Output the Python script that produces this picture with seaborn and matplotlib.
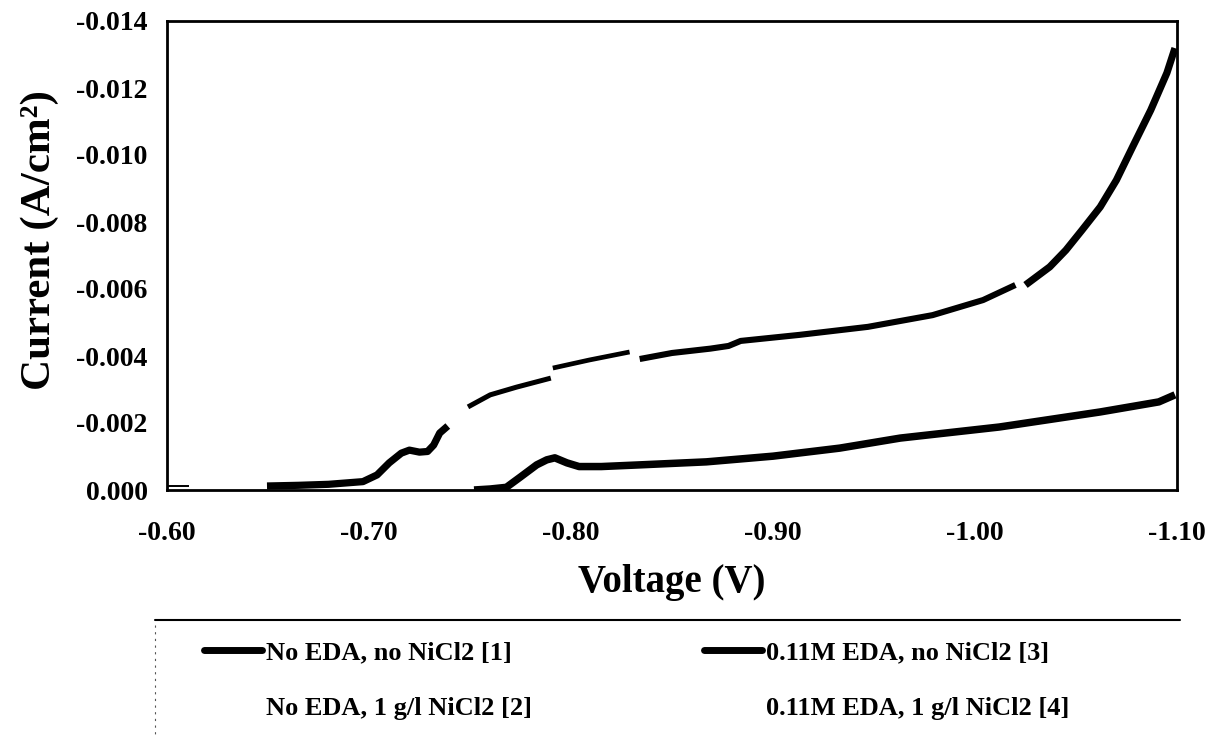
import numpy as np
import pandas as pd
import matplotlib
matplotlib.use("Agg")
import matplotlib.pyplot as plt
import seaborn as sns
from matplotlib.lines import Line2D

# ---------------- data (voltage in V, current in A/cm^2) ----------------
volt_a0 = [-0.600, -0.611]
curr_a0 = [-0.00012, -0.00012]

volt_a1 = [-0.6495, -0.665, -0.680, -0.697, -0.704, -0.710, -0.716, -0.720,
           -0.725, -0.729, -0.732, -0.735, -0.739]
curr_a1 = [-0.00012, -0.00014, -0.00017, -0.00025, -0.00045, -0.00081, -0.00110,
           -0.00119, -0.00113, -0.00115, -0.00134, -0.00170, -0.00191]

volt_a2 = [-0.749, -0.760, -0.773, -0.790]
curr_a2 = [-0.00248, -0.00284, -0.00307, -0.00334]

volt_a3 = [-0.791, -0.809, -0.829]
curr_a3 = [-0.00364, -0.00388, -0.00412]

volt_a4 = [-0.834, -0.850, -0.869, -0.878, -0.884, -0.913, -0.947, -0.979,
           -1.004, -1.020]
curr_a4 = [-0.00391, -0.00409, -0.00422, -0.00430, -0.00445, -0.00463,
           -0.00487, -0.00522, -0.00567, -0.00612]

volt_a5 = [-1.025, -1.037, -1.045, -1.053, -1.062, -1.070, -1.078, -1.087,
           -1.095, -1.099]
curr_a5 = [-0.00612, -0.00666, -0.00716, -0.00776, -0.00845, -0.00925,
           -0.01024, -0.01134, -0.01245, -0.01319]

volt_b = [-0.752, -0.760, -0.768, -0.775, -0.783, -0.788, -0.792, -0.798,
          -0.804, -0.815, -0.834, -0.867, -0.900, -0.933, -0.963, -1.012,
          -1.062, -1.091, -1.099]
curr_b = [-0.00000, -0.00003, -0.00008, -0.00039, -0.00075, -0.00090, -0.00096,
          -0.00081, -0.00070, -0.00070, -0.00075, -0.00084, -0.00101, -0.00125,
          -0.00155, -0.00188, -0.00233, -0.00263, -0.00284]

legend_labels = ["No EDA, no NiCl2 [1]", "No EDA, 1 g/l NiCl2 [2]",
                 "0.11M EDA, no NiCl2 [3]", "0.11M EDA, 1 g/l NiCl2 [4]"]
x_ticks = [-0.60, -0.70, -0.80, -0.90, -1.00, -1.10]
y_ticks = [0.000, -0.002, -0.004, -0.006, -0.008, -0.010, -0.012, -0.014]

# ---------------- build long table ----------------
segments = [
    ("A0", volt_a0, curr_a0),
    ("A1", volt_a1, curr_a1),
    ("A2", volt_a2, curr_a2),
    ("A3", volt_a3, curr_a3),
    ("A4", volt_a4, curr_a4),
    ("A5", volt_a5, curr_a5),
    ("B", volt_b, curr_b),
]
frames = []
for name, v, c in segments:
    frames.append(pd.DataFrame({"Voltage": v, "Current": c, "segment": name}))
df = pd.concat(frames, ignore_index=True)

seg_width = {"A0": 1.4, "A1": 5.2, "A2": 3.6, "A3": 3.4, "A4": 4.4, "A5": 5.2, "B": 5.4}

# ---------------- plotting ----------------
sns.set_theme(style="white")
plt.rcParams["font.family"] = ["Liberation Serif", "DejaVu Serif"]
plt.rcParams["font.weight"] = "bold"
plt.rcParams["text.color"] = "black"
plt.rcParams["axes.labelcolor"] = "black"
plt.rcParams["xtick.color"] = "black"
plt.rcParams["ytick.color"] = "black"

fig = plt.figure(figsize=(12.09, 7.37), dpi=100)
ax = fig.add_axes([167 / 1209, 1 - 490 / 737, (1177 - 167) / 1209, (490 - 21) / 737])

for name, sub in df.groupby("segment", sort=False):
    sns.lineplot(data=sub, x="Voltage", y="Current", ax=ax, color="black",
                 linewidth=seg_width[name], estimator=None, sort=False,
                 solid_capstyle="butt", legend=False)

ax.set_xlim(-0.60, -1.10)
ax.set_ylim(0.0, -0.014)
ax.set_xticks(x_ticks)
ax.set_yticks(y_ticks)
ax.set_xticklabels([f"{t:.2f}" for t in x_ticks])
ax.set_yticklabels([f"{t:.3f}" for t in y_ticks])
ax.tick_params(axis="both", which="major", labelsize=20, colors="black",
               direction="out", length=5, width=1.2)
ax.tick_params(axis="x", pad=17)
ax.tick_params(axis="y", pad=9)
for lab in ax.get_xticklabels() + ax.get_yticklabels():
    lab.set_fontweight("bold")
    lab.set_color("black")

for sp in ax.spines.values():
    sp.set_visible(True)
    sp.set_color("black")
    sp.set_linewidth(2.0)

ax.set_xlabel("Voltage (V)", fontsize=28, fontweight="bold", color="black")
ax.set_ylabel("Current (A/cm²)", fontsize=31, fontweight="bold", color="black")
ax.xaxis.set_label_coords(0.5, -0.157)
ax.yaxis.set_label_coords(-0.107, 0.533)
ax.grid(False)

# ---------------- legend ----------------
handles = [
    Line2D([0], [0], color="black", lw=5),
    Line2D([0], [0], color="white", lw=5),
    Line2D([0], [0], color="black", lw=5),
    Line2D([0], [0], color="white", lw=5),
]
leg = fig.legend(handles, legend_labels, loc="upper left",
                 bbox_to_anchor=(204 / 1209, 1 - 641 / 737), ncol=2, frameon=False,
                 prop={"weight": "bold", "size": 19},
                 handlelength=2.2, handletextpad=0.15, labelspacing=1.22,
                 columnspacing=6.5, borderpad=0.0, borderaxespad=0.0)
for t in leg.get_texts():
    t.set_color("black")

fig.add_artist(Line2D([155 / 1209, 1180 / 1209], [1 - 620 / 737, 1 - 620 / 737],
                      transform=fig.transFigure, color="black", lw=1.5))
fig.add_artist(Line2D([155 / 1209, 155 / 1209], [1 - 625 / 737, 0.0],
                      transform=fig.transFigure, color="#555555", lw=0.8,
                      linestyle=(0, (2, 4))))

fig.savefig("out.png", dpi=100, facecolor="white")
